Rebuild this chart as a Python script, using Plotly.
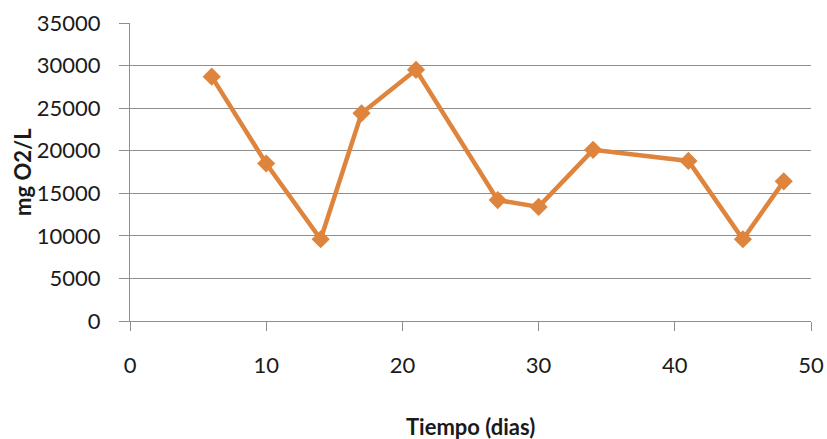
import plotly.graph_objects as go

days = [6, 10, 14, 17, 21, 27, 30, 34, 41, 45, 48]
mg_o2_l = [28700, 18500, 9600, 24400, 29500, 14200, 13400, 20100, 18800, 9600, 16400]
x_ticks = [0, 10, 20, 30, 40, 50]
y_ticks = [0, 5000, 10000, 15000, 20000, 25000, 30000, 35000]
x_title = "Tiempo (dias)"
y_title = "mg O2/L"

color = "#DE843C"
grid = "#8E8E8E"
font = "Lato"

fig = go.Figure()
fig.add_trace(go.Scatter(
    x=days, y=mg_o2_l, mode="lines+markers",
    line=dict(color=color, width=4.5),
    marker=dict(symbol="diamond", size=14, color=color),
    showlegend=False, cliponaxis=False,
))

L, R, T, B = 130, 16, 23, 118
W, H = 827, 439
pw = W - L - R

fig.update_layout(
    width=W, height=H,
    margin=dict(l=L, r=R, t=T, b=B, pad=0, autoexpand=False),
    paper_bgcolor="white", plot_bgcolor="white",
    font=dict(family=font, size=22, color="#1a1a1a"),
    xaxis=dict(
        range=[0, 50], tickvals=x_ticks, ticktext=[str(v) for v in x_ticks],
        showgrid=False, zeroline=False, automargin=False,
        showline=True, linecolor=grid, linewidth=1,
        ticks="outside", ticklen=9, tickcolor=grid, tickwidth=1,
        ticklabelstandoff=16,
    ),
    yaxis=dict(
        range=[0, 35000], tickvals=y_ticks, ticktext=[str(v) for v in y_ticks],
        showgrid=True, gridcolor=grid, gridwidth=1, automargin=False,
        zeroline=False, showline=True, linecolor=grid, linewidth=1,
        ticks="outside", ticklen=10, tickcolor=grid, tickwidth=1,
        ticklabelstandoff=14,
    ),
    annotations=[
        dict(text="<b>%s</b>" % x_title, xref="paper", yref="paper", x=0.5, y=0,
             xanchor="center", yanchor="middle", yshift=-105, showarrow=False,
             font=dict(family=font, size=22, color="#1a1a1a")),
        dict(text="<b>%s</b>" % y_title, xref="paper", yref="paper",
             x=(22 - L) / pw, y=0.5, xanchor="center", yanchor="middle",
             textangle=-90, showarrow=False,
             font=dict(family=font, size=22, color="#1a1a1a")),
    ],
)

fig.write_html(
    "out.html",
    config={"displayModeBar": False},
    post_script="document.body.style.margin='0';document.body.style.overflow='hidden';",
)
